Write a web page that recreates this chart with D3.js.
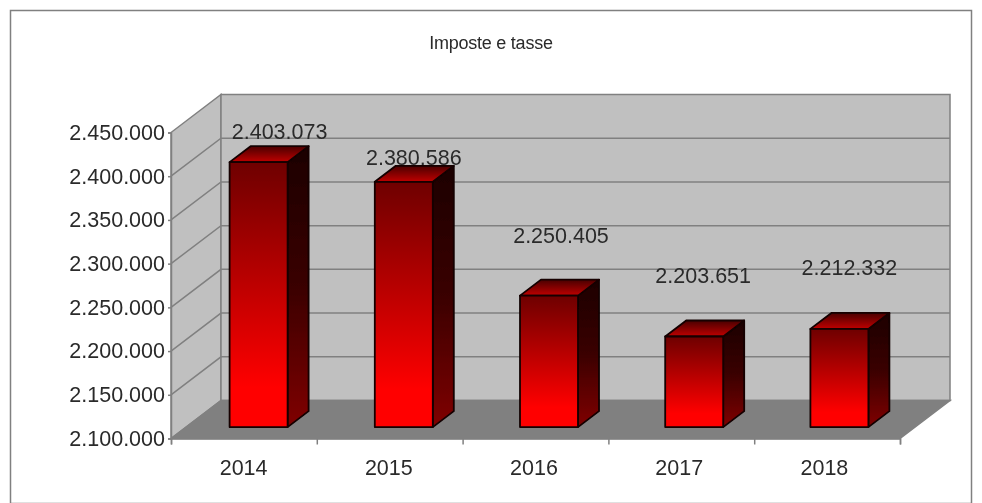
<!DOCTYPE html>
<html><head><meta charset="utf-8">
<script src="https://cdn.jsdelivr.net/npm/d3@7/dist/d3.min.js"></script>
<style>html,body{margin:0;padding:0;background:#fff}svg{display:block}text{font-family:"Liberation Sans",Arial,sans-serif;fill:#2a2a2a}</style>
</head><body><div id="c"></div>
<script>
const title = "Imposte e tasse";
const years = ["2014","2015","2016","2017","2018"];
const values = [2403073,2380586,2250405,2203651,2212332];
const valueLabels = ["2.403.073","2.380.586","2.250.405","2.203.651","2.212.332"];
const yTicks = [2100000,2150000,2200000,2250000,2300000,2350000,2400000,2450000];
const labelDx = [21,10,12,9,10];
const labelGap = [23,17,53,53.5,54];

const W=982,H=503;
const pLeft=171,pRight=900,pBottom=438.5,pTop=132.5;
const wallDx=50,wallDy=-38;
const barInset=0.3,barDepth=0.42;
const svg=d3.select("#c").append("svg").attr("width",W).attr("height",H);
const defs=svg.append("defs");
function grad(id,stops){const g=defs.append("linearGradient").attr("id",id).attr("x1",0).attr("y1",0).attr("x2",0).attr("y2",1);
 stops.forEach(s=>g.append("stop").attr("offset",s[0]).attr("stop-color",s[1]));}
grad("front",[[0,"#6e0000"],[0.85,"#ff0000"],[1,"#ff0000"]]);
grad("side",[[0,"#1c0000"],[0.5,"#3a0000"],[1,"#800000"]]);
grad("topf",[[0,"#4a0000"],[1,"#c00000"]]);
defs.append("filter").attr("id","soft").append("feGaussianBlur").attr("stdDeviation",0.45);

const xStep=d3.scaleBand().domain(years).range([pLeft,pRight-3]);
const y=d3.scaleLinear().domain([2100000,2450000]).range([pBottom,pTop]);
const pts=a=>a.map(p=>p.join(",")).join(" ");
const root=svg.append("g").attr("filter","url(#soft)");

root.append("rect").attr("x",10.5).attr("y",10.5).attr("width",W-21).attr("height",H-10).attr("fill","#fff").attr("stroke","#808080").attr("stroke-width",1.5);

const grid="#808080";
root.append("polygon").attr("points",pts([[pLeft,pBottom],[pLeft+wallDx,pBottom+wallDy],[pLeft+wallDx,pTop+wallDy],[pLeft,pTop]])).attr("fill","#c0c0c0").attr("stroke",grid).attr("stroke-width",1.5);
root.append("rect").attr("x",pLeft+wallDx).attr("y",pTop+wallDy).attr("width",pRight-pLeft).attr("height",pBottom-pTop).attr("fill","#c0c0c0").attr("stroke",grid).attr("stroke-width",1.5);
root.append("polygon").attr("points",pts([[pLeft,pBottom],[pLeft+wallDx,pBottom+wallDy],[pRight+wallDx,pBottom+wallDy],[pRight,pBottom]])).attr("fill","#808080").attr("stroke",grid).attr("stroke-width",1.5);
yTicks.slice(1,-1).forEach(t=>{
 root.append("polyline").attr("points",pts([[pLeft,y(t)],[pLeft+wallDx,y(t)+wallDy],[pRight+wallDx,y(t)+wallDy]])).attr("fill","none").attr("stroke",grid).attr("stroke-width",1.5);
});
const ay=root.append("g").attr("transform",`translate(${pLeft},0)`).call(d3.axisLeft(y).tickValues(yTicks).tickSize(3).tickPadding(3).tickFormat((d)=>d3.format(",")(d).replace(/,/g,".")));
ay.selectAll("text").attr("font-size",21.5).style("font-family",'"Liberation Sans",Arial,sans-serif');
ay.select(".domain").attr("stroke",grid).attr("stroke-width",1.5);
ay.selectAll("line").attr("stroke",grid).attr("stroke-width",1.5);
const ax=root.append("g").attr("transform",`translate(0,${pBottom})`);
ax.call(d3.axisBottom(d3.scaleLinear().domain([0,5]).range([pLeft,pRight])).tickValues([0,1,2,3,4,5]).tickSize(6).tickFormat(""));
ax.select(".domain").attr("stroke",grid).attr("stroke-width",1.5);
ax.selectAll("line").attr("stroke",grid).attr("stroke-width",1.5);
root.selectAll("text.cat").data(years).enter().append("text").attr("class","cat")
 .attr("x",d=>xStep(d)+xStep.bandwidth()/2).attr("y",475).attr("text-anchor","middle").attr("font-size",21.5).text(d=>d);

const frontOffX=wallDx*barInset, frontOffY=wallDy*barInset;
const dX=wallDx*barDepth, dY=wallDy*barDepth;
const barW=58;
years.forEach((yr,i)=>{
 const cx=xStep(yr)+xStep.bandwidth()/2+frontOffX;
 const x0=cx-barW/2,x1=cx+barW/2;
 const yT=y(values[i])+frontOffY,yB=pBottom+frontOffY;
 const g=root.append("g").attr("stroke","#120000").attr("stroke-width",1.8).attr("stroke-linejoin","round");
 g.append("polygon").attr("points",pts([[x1,yT],[x1+dX,yT+dY],[x1+dX,yB+dY],[x1,yB]])).attr("fill","url(#side)");
 g.append("polygon").attr("points",pts([[x0,yT],[x0+dX,yT+dY],[x1+dX,yT+dY],[x1,yT]])).attr("fill","url(#topf)");
 g.append("rect").attr("x",x0).attr("y",yT).attr("width",barW).attr("height",yB-yT).attr("fill","url(#front)");
 root.append("text").attr("x",cx+labelDx[i]).attr("y",yT-labelGap[i]).attr("text-anchor","middle").attr("font-size",21.5).text(valueLabels[i]);
});
root.append("text").attr("x",491).attr("y",49).attr("text-anchor","middle").attr("font-size",18).style("letter-spacing","-0.25px").text(title);
</script></body></html>
